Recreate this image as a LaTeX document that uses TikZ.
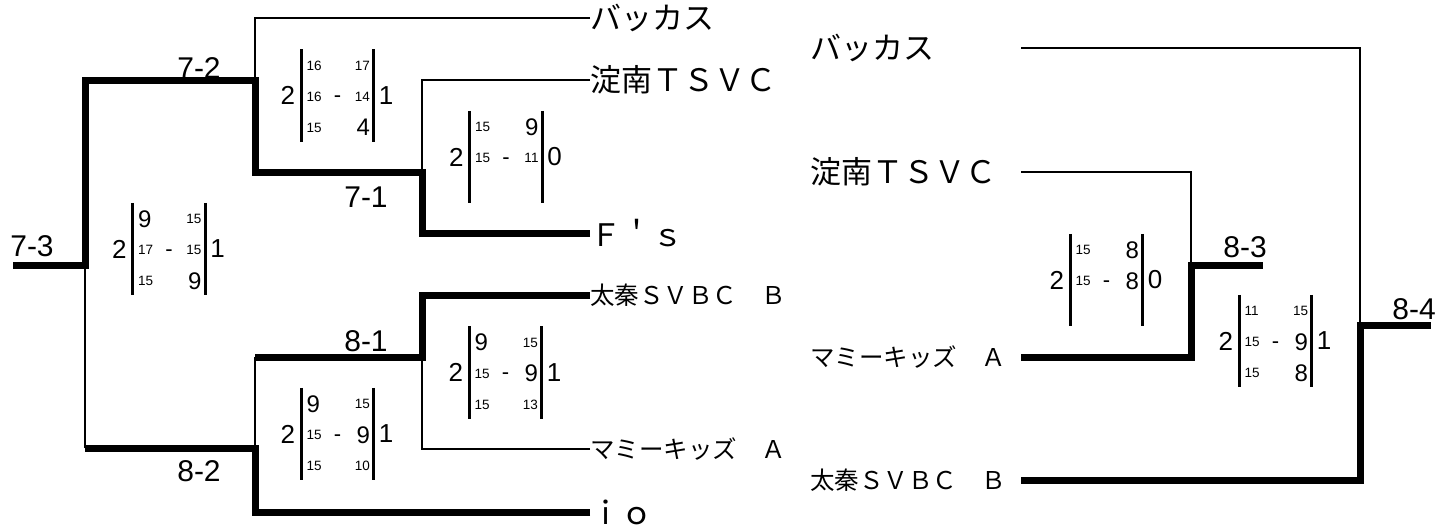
\documentclass[tikz,border=0pt]{standalone}
\usepackage{fontspec}
\setmainfont{Liberation Sans}
\newfontfamily\jpfont{Noto Sans CJK JP}
\usepackage{tikz}
\usetikzlibrary{calc,positioning}

\newcommand\pts[1]{\ifnum#1<10 \fontsize{24}{24}\selectfont#1\else\fontsize{13.5}{13.5}\selectfont#1\fi}

\newcommand\scorebox[5]{%
	\node[sbox] (#1) at (#2) {};
	\draw[bar] (#1.north west) -- (#1.south west) (#1.north east) -- (#1.south east);
	\node[games,anchor=east] (#1l) at ([xshift=-6pt]#1.west) {#3};
	\node[games,anchor=west] (#1r) at ([xshift=5pt]#1.east) {#4};
	\node[pnt,font=\fontsize{22}{22}\selectfont] (#1d) at ([yshift=-4pt]#1.center) {-};
	\foreach \a/\b [count=\i] in {#5} {
		\node[pnt,anchor=west] (#1a\i) at ($(#1.west)+(5,{(\i-2)*31+1})$) {\pts{\a}};
		\node[pnt,anchor=east] (#1b\i) at ($(#1.east)+(-3.5,{(\i-2)*31+1})$) {\pts{\b}};
	}}

\begin{document}
\begin{tikzpicture}[x=1pt,y=-1pt,
		win/.style={line width=7pt},
		lose/.style={line width=2.7pt},
		bar/.style={line width=3pt},
		sbox/.style={minimum width=72pt,minimum height=92pt,inner sep=0pt},
		games/.style={inner sep=0pt,font=\fontsize{26}{26}\selectfont},
		pnt/.style={inner sep=0pt},
		team/.style={inner sep=0pt,font=\jpfont\fontsize{31}{31}\selectfont},
		steam/.style={team,font=\jpfont\fontsize{24.5}{24.5}\selectfont},
		rteam/.style={anchor=west,text width=211pt,align=left},
		lab/.style={font=\fontsize{30}{30}\selectfont}]
	\useasboundingbox (0,0) rectangle (1453,527);
	\node[team,anchor=west] (tL1) at (590,18) {バッカス};
	\node[team,anchor=west] (tL2) at (590,80) {淀南ＴＳＶＣ};
	\node[team,anchor=west] (tL3) at (590,233) {Ｆ＇ｓ};
	\node[steam,anchor=west] (tL4) at (590,295) {太秦ＳＶＢＣ　Ｂ};
	\node[steam,anchor=west] (tL5) at (590,449) {マミーキッズ　Ａ};
	\node[team,anchor=west] (tL6) at (590,512) {ｉｏ};
	\node[team,rteam] (tR1) at (810,48) {バッカス};
	\node[team,rteam] (tR2) at (810,172) {淀南ＴＳＶＣ};
	\node[steam,rteam] (tR3) at (810,357) {マミーキッズ　Ａ};
	\node[steam,rteam] (tR4) at (810,480) {太秦ＳＶＢＣ　Ｂ};

	\coordinate (m71) at (422,172);
	\coordinate (m72) at (255,80);
	\coordinate (m73) at (85,265);
	\coordinate (m81) at (422,357);
	\coordinate (m82) at (255,448);
	\coordinate (m83) at (1191,265);
	\coordinate (m84) at (1360,325);
	\coordinate (e73) at (13,265);
	\coordinate (e83) at (1263,265);
	\coordinate (e84) at (1431,325);

	\draw[lose] (tL1.west) -| (m72);
	\draw[lose] (tL2.west) -| (m71);
	\draw[win] (tL3.west) -| (m71) -| (m72) -| (m73) -- (e73);
	\draw[win] (tL4.west) -| (m81) -- (m81 -| m82);
	\draw[lose] (m81 -| m82) -- (m82);
	\draw[lose] (tL5.west) -| (m81);
	\draw[win] (tL6.west) -| (m82) -- (m82 -| m73);
	\draw[lose] (m82 -| m73) -- (m73);
	\draw[lose] (tR1.east) -| (m84);
	\draw[lose] (tR2.east) -| (m83);
	\draw[win] (tR3.east) -| (m83) -- (e83);
	\draw[win] (tR4.east) -| (m84) -- (e84);

	\node[lab] (l73) at (32,246) {7-3};
	\node[lab] (l72) at (199,68) {7-2};
	\node[lab] (l71) at (366,197) {7-1};
	\node[lab] (l81) at (366,341) {8-1};
	\node[lab] (l82) at (199,471) {8-2};
	\node[lab] (l83) at (1245,247) {8-3};
	\node[lab] (l84) at (1414,309) {8-4};

	\scorebox{s73}{169,249}{2}{1}{9/15,17/15,15/9}
	\scorebox{s72}{337.5,95.5}{2}{1}{16/17,16/14,15/4}
	\scorebox{s71}{506,157}{2}{0}{15/9,15/11}
	\scorebox{s82}{337.5,434}{2}{1}{9/15,15/9,15/10}
	\scorebox{s81}{505.5,372.5}{2}{1}{9/15,15/9,15/13}
	\scorebox{s83}{1106.5,280}{2}{0}{15/8,15/8}
	\scorebox{s84}{1275.5,341}{2}{1}{11/15,15/9,15/8}
\end{tikzpicture}
\end{document}
